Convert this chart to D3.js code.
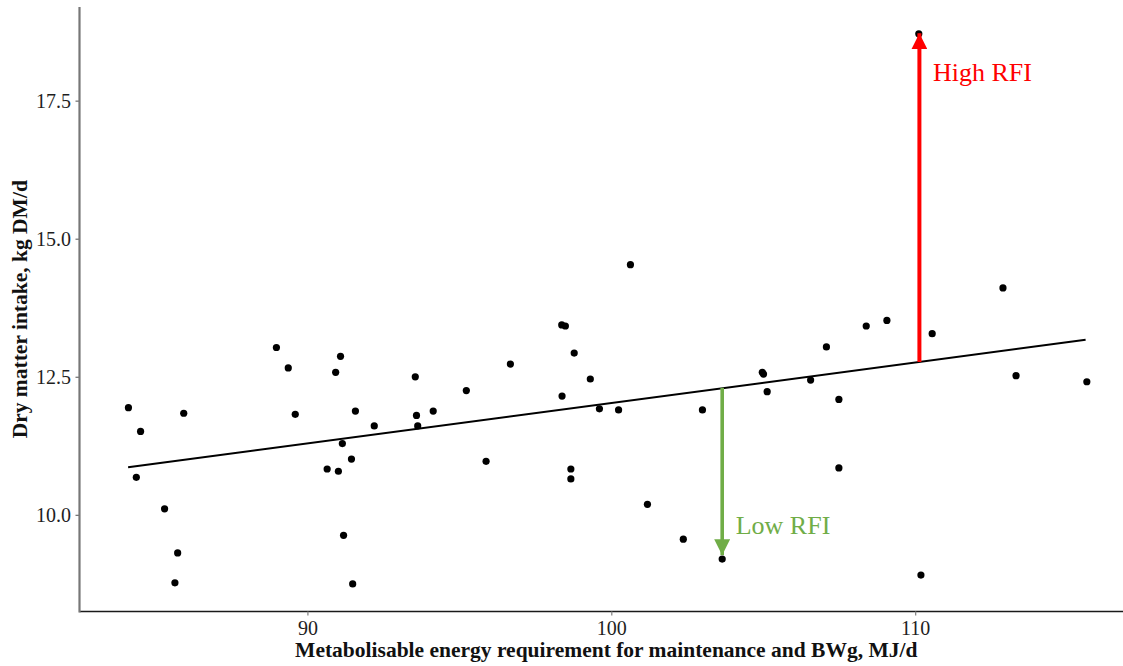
<!DOCTYPE html>
<html>
<head>
<meta charset="utf-8">
<script src="https://cdn.jsdelivr.net/npm/d3@7"></script>
<style>
  body { margin: 0; background: #fff; }
  .tick text { font-family: "Liberation Serif", "Times New Roman", serif; font-size: 20px; fill: #1e1e1e; }
  .axis-title { font-family: "Liberation Serif", "Times New Roman", serif; font-size: 21.5px; font-weight: bold; fill: #111; }
  .note { font-family: "Liberation Serif", "DejaVu Serif", serif; font-size: 26px; }
</style>
</head>
<body>
<script>
// metabolisable energy requirement (MJ/d) and dry matter intake (kg DM/d)
var meReq = [84.11, 84.51, 85.93, 84.37, 85.30, 85.73, 85.64, 88.98, 89.37, 89.60,
             90.65, 91.09, 90.93, 91.58, 92.20, 91.15, 91.45, 91.02, 91.19, 91.49,
             93.55, 93.59, 93.63, 94.14, 95.23, 95.88, 96.68, 98.37, 98.49, 98.78,
             99.31, 98.38, 99.61, 100.24, 98.67, 98.67, 101.19, 100.63, 108.39, 109.07,
             110.56, 107.08, 104.97, 105.01, 106.56, 105.13, 107.49, 103.00, 113.32, 115.65,
             107.49, 102.37, 103.65, 110.19, 110.12, 112.89];
var dmi   = [11.94, 11.51, 11.84, 10.68, 10.11, 9.31, 8.77, 13.03, 12.66, 11.82,
             10.83, 12.87, 12.58, 11.88, 11.61, 11.29, 11.01, 10.79, 9.63, 8.75,
             12.50, 11.80, 11.61, 11.88, 12.25, 10.97, 12.73, 13.44, 13.42, 12.93,
             12.46, 12.15, 11.92, 11.90, 10.83, 10.65, 10.19, 14.53, 13.42, 13.52,
             13.28, 13.04, 12.58, 12.55, 12.44, 12.23, 12.09, 11.90, 12.52, 12.41,
             10.85, 9.56, 9.20, 8.91, 18.71, 14.11];

// fitted line end points
var fitX = [84.10, 115.61];
var fitY = [10.86, 13.17];

// RFI arrows: from fitted line to animal
var rfiLabel = ["High RFI", "Low RFI"];
var rfiX     = [110.14, 103.65];
var rfiFrom  = [12.77, 12.30];
var rfiTo    = [18.72, 9.27];
var rfiColor = ["#ff0000", "#70ad47"];

var xTicks = [90, 100, 110];
var yTicks = [10, 12.5, 15, 17.5];

var W = 1123, H = 666;
var pLeft = 79.5, pTop = 7, pRight = 1123, pBottom = 611.5;

var svg = d3.select("body").append("svg")
    .attr("width", W)
    .attr("height", H);

var x = d3.scaleLinear().domain([82.5, 116.84]).range([pLeft, pRight]);
var y = d3.scaleLinear().domain([8.25, 19.196]).range([pBottom, pTop]);

// axes
var xAxis = svg.append("g")
    .attr("transform", "translate(0," + pBottom + ")")
    .call(d3.axisBottom(x).tickValues(xTicks).tickSize(4).tickPadding(5.5).tickFormat(d3.format("d")));
xAxis.select(".domain").attr("stroke", "#1a1a1a").attr("stroke-width", 1.6)
    .attr("d", "M" + pLeft + ",0H" + pRight);
xAxis.selectAll(".tick line").attr("stroke", "#888").attr("stroke-width", 1.3);

var yAxis = svg.append("g")
    .attr("transform", "translate(" + pLeft + ",0)")
    .call(d3.axisLeft(y).tickValues(yTicks).tickSize(4).tickPadding(4.5).tickFormat(d3.format(".1f")));
yAxis.select(".domain").attr("stroke", "#777").attr("stroke-width", 2.2)
    .attr("d", "M0," + pTop + "V" + (pBottom + 1));
yAxis.selectAll(".tick line").attr("stroke", "#777").attr("stroke-width", 1.3);

// fitted line
svg.append("path")
    .datum(d3.zip(fitX, fitY))
    .attr("fill", "none")
    .attr("stroke", "#000")
    .attr("stroke-width", 2)
    .attr("d", d3.line().x(function(d) { return x(d[0]); }).y(function(d) { return y(d[1]); }));

// points
svg.selectAll(".dot")
    .data(d3.zip(meReq, dmi))
    .enter().append("circle")
    .attr("class", "dot")
    .attr("cx", function(d) { return x(d[0]); })
    .attr("cy", function(d) { return y(d[1]); })
    .attr("r", 3.6)
    .attr("fill", "#000");

// RFI arrows
var defs = svg.append("defs");
rfiColor.forEach(function(c, i) {
  defs.append("marker")
      .attr("id", "head" + i)
      .attr("viewBox", "0 0 16 16")
      .attr("refX", 16).attr("refY", 8)
      .attr("markerUnits", "userSpaceOnUse")
      .attr("markerWidth", 16).attr("markerHeight", 16)
      .attr("orient", "auto")
    .append("path")
      .attr("d", "M0,0L16,8L0,16Z")
      .attr("fill", c);
});

var arrows = d3.range(rfiLabel.length);
svg.selectAll(".rfi")
    .data(arrows)
    .enter().append("line")
    .attr("class", "rfi")
    .attr("x1", function(i) { return x(rfiX[i]); })
    .attr("x2", function(i) { return x(rfiX[i]); })
    .attr("y1", function(i) { return y(rfiFrom[i]); })
    .attr("y2", function(i) { return y(rfiTo[i]); })
    .attr("stroke", function(i) { return rfiColor[i]; })
    .attr("stroke-width", function(i) { return i == 0 ? 4 : 3.6; })
    .attr("marker-end", function(i) { return "url(#head" + i + ")"; });

svg.selectAll(".note")
    .data(arrows)
    .enter().append("text")
    .attr("class", "note")
    .attr("x", function(i) { return x(rfiX[i]) + 13.5; })
    .attr("y", function(i) { return i == 0 ? y(rfiTo[i]) + 48 : y(rfiTo[i]) - 21.5; })
    .attr("fill", function(i) { return rfiColor[i]; })
    .text(function(i) { return rfiLabel[i]; });

// axis titles
svg.append("text")
    .attr("class", "axis-title")
    .attr("x", (pLeft + pRight) / 2 + 5)
    .attr("y", 657)
    .attr("text-anchor", "middle")
    .text("Metabolisable energy requirement for maintenance and BWg, MJ/d");

svg.append("text")
    .attr("class", "axis-title")
    .attr("transform", "translate(27," + (pTop + pBottom) / 2 + ") rotate(-90)")
    .attr("text-anchor", "middle")
    .text("Dry matter intake, kg DM/d");
</script>
</body>
</html>
